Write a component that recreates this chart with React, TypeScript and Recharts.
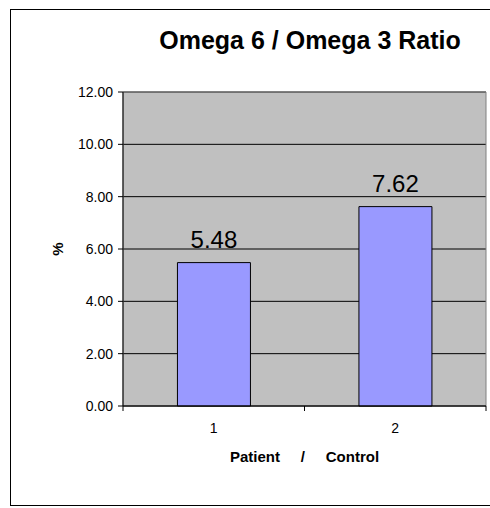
import React from "react";
import {
  BarChart, Bar, XAxis, YAxis, CartesianGrid, LabelList, ReferenceArea,
} from "recharts";

const categories = ["1", "2"];
const ratios = [5.48, 7.62];
const yTicks = [0, 2, 4, 6, 8, 10, 12];

const FONT = '"Liberation Sans", Arial, Helvetica, sans-serif';

const data = categories.map((c, i) => ({ group: c, ratio: ratios[i] }));

// Excel-style ticks: marks sit on the category boundaries, labels in the middle
function XTick(props: any) {
  const { x, y, payload, index, visibleTicksCount, width } = props;
  const count = visibleTicksCount || categories.length;
  const half = (typeof width === "number" ? width : 363) / count / 2;
  return (
    <g>
      <line x1={x - half} x2={x - half} y1={y} y2={y + 5} stroke="#000" />
      {index === count - 1 && (
        <line x1={x + half} x2={x + half} y1={y} y2={y + 5} stroke="#000" />
      )}
      <text x={x} y={y + 27} textAnchor="middle" fontSize={14} fill="#000" fontFamily={FONT}>
        {payload.value}
      </text>
    </g>
  );
}

export default function App() {
  return (
    <div style={{ position: "absolute", left: 0, top: 0, width: 490, height: 508, background: "#fff" }}>
      <div
        style={{
          position: "absolute", left: 10, top: 9, width: 480, height: 497, boxSizing: "border-box",
          borderLeft: "1px solid #000", borderTop: "1px solid #000", borderBottom: "1px solid #000",
        }}
      />
      <div
        style={{
          position: "absolute", left: 110, top: 28, width: 400, textAlign: "center",
          fontFamily: FONT, fontWeight: "bold", fontSize: 25, lineHeight: "25px", color: "#000",
        }}
      >
        Omega 6 / Omega 3 Ratio
      </div>
      <div style={{ position: "absolute", left: 0, top: 0 }}>
        <BarChart
          width={490}
          height={508}
          data={data}
          margin={{ top: 92, right: 4, bottom: 0, left: 0 }}
          barCategoryGap="30%"
          style={{ fontFamily: FONT }}
        >
          <CartesianGrid vertical={false} stroke="#000" fill="#C0C0C0" fillOpacity={1} />
          <ReferenceArea y1={0} y2={12} fill="none" stroke="#808080" ifOverflow="visible" />
          <XAxis
            dataKey="group"
            height={102}
            tickLine={false}
            tickSize={0}
            tickMargin={0}
            axisLine={{ stroke: "#000" }}
            tick={<XTick />}
            label={{
              content: (p: any) => {
                const vb = p.viewBox;
                return (
                  <text
                    x={vb.x + vb.width / 2}
                    y={vb.y + 56}
                    textAnchor="middle"
                    fontSize={15}
                    fontWeight="bold"
                    fill="#000"
                    fontFamily={FONT}
                    style={{ whiteSpace: "pre" }}
                  >
                    {"Patient     /     Control"}
                  </text>
                );
              },
            }}
          />
          <YAxis
            width={123}
            domain={[0, 12]}
            ticks={yTicks}
            interval={0}
            tickFormatter={(v: number) => v.toFixed(2)}
            tickSize={5}
            tickMargin={5}
            tick={{ fontSize: 14, fill: "#000", fontFamily: FONT }}
            tickLine={{ stroke: "#000" }}
            axisLine={{ stroke: "#000" }}
            label={{
              content: (p: any) => {
                const vb = p.viewBox;
                const cx = vb.x + 57;
                const cy = vb.y + vb.height / 2;
                return (
                  <text
                    x={cx}
                    y={cy}
                    transform={`rotate(-90 ${cx} ${cy})`}
                    textAnchor="middle"
                    dominantBaseline="central"
                    fontSize={15}
                    fontWeight="bold"
                    fill="#000"
                    fontFamily={FONT}
                  >
                    %
                  </text>
                );
              },
            }}
          />
          <Bar dataKey="ratio" fill="#9999FF" stroke="#000" strokeWidth={1} isAnimationActive={false}>
            <LabelList
              dataKey="ratio"
              position="top"
              offset={15}
              formatter={(v: any) => Number(v).toFixed(2)}
              style={{ fontSize: 24, fill: "#000", fontFamily: FONT }}
            />
          </Bar>
        </BarChart>
      </div>
    </div>
  );
}
